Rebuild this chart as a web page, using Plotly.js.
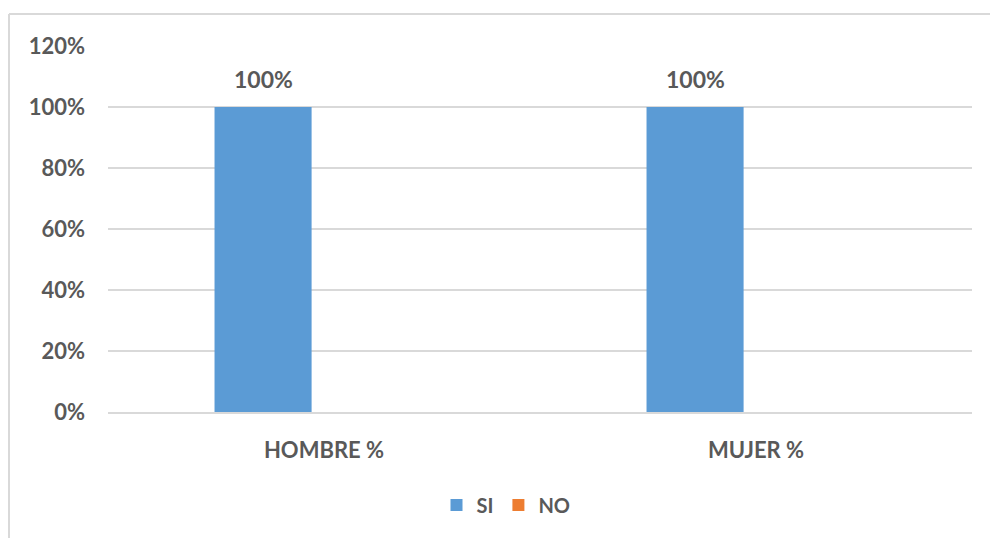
<!DOCTYPE html>
<html>
<head>
<meta charset="utf-8">
<script src="https://cdn.plot.ly/plotly-3.0.1.min.js"></script>
<style>
  html, body { margin: 0; padding: 0; background: #ffffff; }
  #chart { width: 990px; height: 538px; }
</style>
</head>
<body>
<div id="chart"></div>
<script>
// Categories and series values
const categories = ['HOMBRE %', 'MUJER %'];
const seriesNames = ['SI', 'NO'];
const siValues = [1.0, 1.0];
const noValues = [0, 0];
const yTickValues = [0, 0.2, 0.4, 0.6, 0.8, 1.0, 1.2];
const yTickLabels = ['0%', '20%', '40%', '60%', '80%', '100%', '120%'];

// Styling
const W = 990, H = 538;
const M = { l: 108, r: 18, t: 46, b: 126 };
const textColor = '#595959';
const gridColor = '#d9d9d9';
const siColor = '#5B9BD5';
const noColor = '#ED7D31';
const fontFamily = 'Lato, "Open Sans", sans-serif';

// Column geometry in category units
const barWidth = 0.2247;
const siOffset = -0.2534;
const noOffset = siOffset + barWidth;

const traces = [
  {
    type: 'bar', name: seriesNames[0], x: categories, y: siValues,
    width: barWidth, offset: siOffset,
    marker: { color: siColor }, hoverinfo: 'skip'
  },
  {
    type: 'bar', name: seriesNames[1], x: categories, y: noValues,
    width: barWidth, offset: noOffset,
    marker: { color: noColor }, hoverinfo: 'skip'
  }
];

// Value labels above the SI columns
const valueLabels = siValues.map((v, i) => ({
  xref: 'x', yref: 'y',
  x: i + siOffset + barWidth / 2, y: v,
  text: Math.round(v * 100) + '%',
  showarrow: false, yanchor: 'bottom', yshift: 12,
  font: { family: fontFamily, size: 23, color: textColor, weight: 'bold' }
}));

// Outer frame (top and left edges) in paper coordinates
const pw = W - M.l - M.r, ph = H - M.t - M.b;
const px = v => (v - M.l) / pw;
const py = v => (H - M.b - v) / ph;
const frame = [
  { type: 'line', xref: 'paper', yref: 'paper', x0: px(9), x1: px(990), y0: py(14), y1: py(14),
    line: { color: gridColor, width: 2 } },
  { type: 'line', xref: 'paper', yref: 'paper', x0: px(9), x1: px(9), y0: py(14), y1: py(538),
    line: { color: gridColor, width: 2 } }
];

const layout = {
  width: W, height: H,
  margin: M,
  paper_bgcolor: '#ffffff', plot_bgcolor: '#ffffff',
  font: { family: fontFamily, color: textColor, weight: 'bold' },
  barmode: 'overlay',
  showlegend: true,
  legend: {
    orientation: 'h', xref: 'paper', yref: 'paper',
    x: px(506), xanchor: 'center', y: py(505), yanchor: 'middle',
    font: { family: fontFamily, size: 20, color: textColor, weight: 'bold' },
    itemclick: false, itemdoubleclick: false
  },
  xaxis: {
    type: 'category', categoryorder: 'array', categoryarray: categories,
    showgrid: false, zeroline: false,
    showline: true, linecolor: gridColor, linewidth: 2,
    ticks: '', ticklabelstandoff: 18,
    tickfont: { family: fontFamily, size: 22, color: textColor, weight: 'bold' },
    fixedrange: true
  },
  yaxis: {
    range: [0, 1.2],
    tickmode: 'array', tickvals: yTickValues, ticktext: yTickLabels,
    showgrid: true, gridcolor: gridColor, gridwidth: 2,
    zeroline: false, showline: false, ticks: '', ticklabelstandoff: 22,
    tickfont: { family: fontFamily, size: 22, color: textColor, weight: 'bold' },
    fixedrange: true
  },
  annotations: valueLabels,
  shapes: frame
};

Plotly.newPlot('chart', traces, layout, { displayModeBar: false, staticPlot: true });
</script>
</body>
</html>
